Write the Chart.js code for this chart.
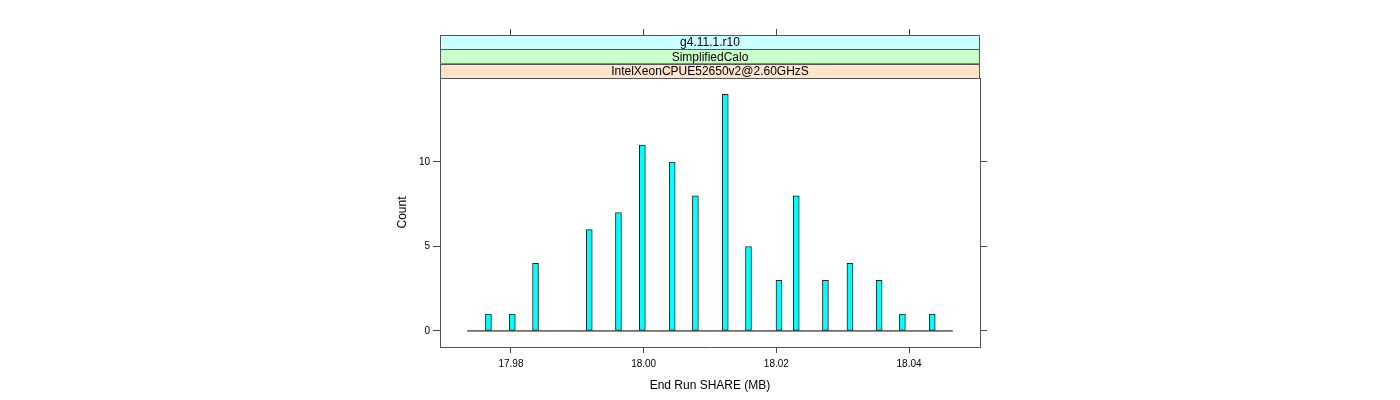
<!DOCTYPE html>
<html>
<head>
<meta charset="utf-8">
<script src="https://cdn.jsdelivr.net/npm/chart.js@4"></script>
<style>
  body { margin: 0; background: #fff; }
  canvas { display: block; }
</style>
</head>
<body>
<canvas id="myChart" width="1400" height="400"></canvas>
<script>
// bin centres (MB) and counts
var shareValues = [17.9766, 17.9802, 17.9837, 17.9918, 17.9962, 17.9998, 18.0043, 18.0078, 18.0123,
                   18.0158, 18.0204, 18.0230, 18.0274, 18.0311, 18.0355, 18.0390, 18.0435];
var counts = [1, 1, 4, 6, 7, 11, 10, 8, 14, 5, 3, 8, 3, 4, 3, 1, 1];
var baseline = [17.9734, 18.0466];
var xTicks = [17.98, 18.00, 18.02, 18.04];
var yTicks = [0, 5, 10];
var stripLabels = ['g4.11.1.r10', 'SimplifiedCalo', 'IntelXeonCPUE52650v2@2.60GHzS'];
var stripColors = ['#CCFFFF', '#CCFFCC', '#FFE5CC'];

var FONT = 'Liberation Sans, Arial, sans-serif';

var barData = shareValues.map(function(v, i){ return {x: v, y: counts[i]}; });
var lineData = baseline.map(function(v){ return {x: v, y: 0}; });

var strips = {
  id: 'strips',
  afterDraw: function(chart){
    var ctx = chart.ctx, a = chart.chartArea;
    var h = 43 / stripLabels.length;
    var top = a.top - 43;
    ctx.save();
    for (var i = 0; i < stripLabels.length; i++) {
      var y = top + i * h;
      ctx.fillStyle = stripColors[i];
      ctx.fillRect(a.left, y, a.right - a.left, h);
      ctx.strokeStyle = '#555';
      ctx.lineWidth = 1;
      ctx.strokeRect(a.left + 0.5, Math.round(y) + 0.5, a.right - a.left - 1, Math.round(h));
      ctx.fillStyle = '#000';
      ctx.font = '12px ' + FONT;
      ctx.textAlign = 'center';
      ctx.textBaseline = 'middle';
      ctx.fillText(stripLabels[i], (a.left + a.right) / 2, y + h / 2 + 1);
    }
    ctx.restore();
  }
};

function setTicks(list){
  return function(scale){ scale.ticks = list.map(function(v){ return {value: v}; }); };
}

new Chart('myChart', {
  type: 'bar',
  data: {
    datasets: [{
      type: 'line',
      data: lineData,
      borderColor: '#000',
      borderWidth: 1,
      pointRadius: 0,
      fill: false,
      order: 2
    }, {
      data: barData,
      backgroundColor: '#00FFFF',
      borderColor: '#222',
      borderWidth: 1,
      borderSkipped: false,
      barThickness: 6,
      order: 1
    }]
  },
  plugins: [strips],
  options: {
    responsive: false,
    animation: false,
    layout: { padding: { left: 395, right: 413, top: 29, bottom: 7 } },
    plugins: { legend: { display: false }, tooltip: { enabled: false } },
    scales: {
      x: {
        type: 'linear',
        position: 'bottom',
        min: 17.9693, max: 18.0507,
        offset: false,
        afterBuildTicks: setTicks(xTicks),
        afterFit: function(s){ s.height = 46; },
        grid: { offset: false, drawOnChartArea: false, tickLength: 6, tickColor: '#444' },
        border: { display: true, color: '#555' },
        ticks: { color: '#000', font: { family: FONT, size: 10 }, padding: 5, maxRotation: 0,
                 callback: function(v){ return v.toFixed(2); } },
        title: { display: true, text: 'End Run SHARE (MB)', color: '#000', padding: 0,
                 font: { family: FONT, size: 12 } }
      },
      xTop: {
        type: 'linear',
        position: 'top',
        min: 17.9693, max: 18.0507,
        offset: false,
        afterBuildTicks: setTicks(xTicks),
        afterFit: function(s){ s.height = 49; },
        grid: { offset: false, drawOnChartArea: false, tickLength: 49, tickColor: '#444' },
        border: { display: true, color: '#555' },
        ticks: { display: false }
      },
      y: {
        position: 'left',
        min: -0.95, max: 14.97,
        afterBuildTicks: setTicks(yTicks),
        afterFit: function(s){ s.width = 45; },
        grid: { drawOnChartArea: false, tickLength: 7, tickColor: '#444' },
        border: { display: true, color: '#555' },
        ticks: { color: '#000', font: { family: FONT, size: 10 }, padding: 3 },
        title: { display: true, text: 'Count', color: '#000', padding: 0,
                 font: { family: FONT, size: 12 } }
      },
      yRight: {
        position: 'right',
        min: -0.95, max: 14.97,
        afterBuildTicks: setTicks(yTicks),
        afterFit: function(s){ s.width = 7; },
        grid: { drawOnChartArea: false, tickLength: 7, tickColor: '#444' },
        border: { display: true, color: '#555' },
        ticks: { display: false }
      }
    }
  }
});
</script>
</body>
</html>
